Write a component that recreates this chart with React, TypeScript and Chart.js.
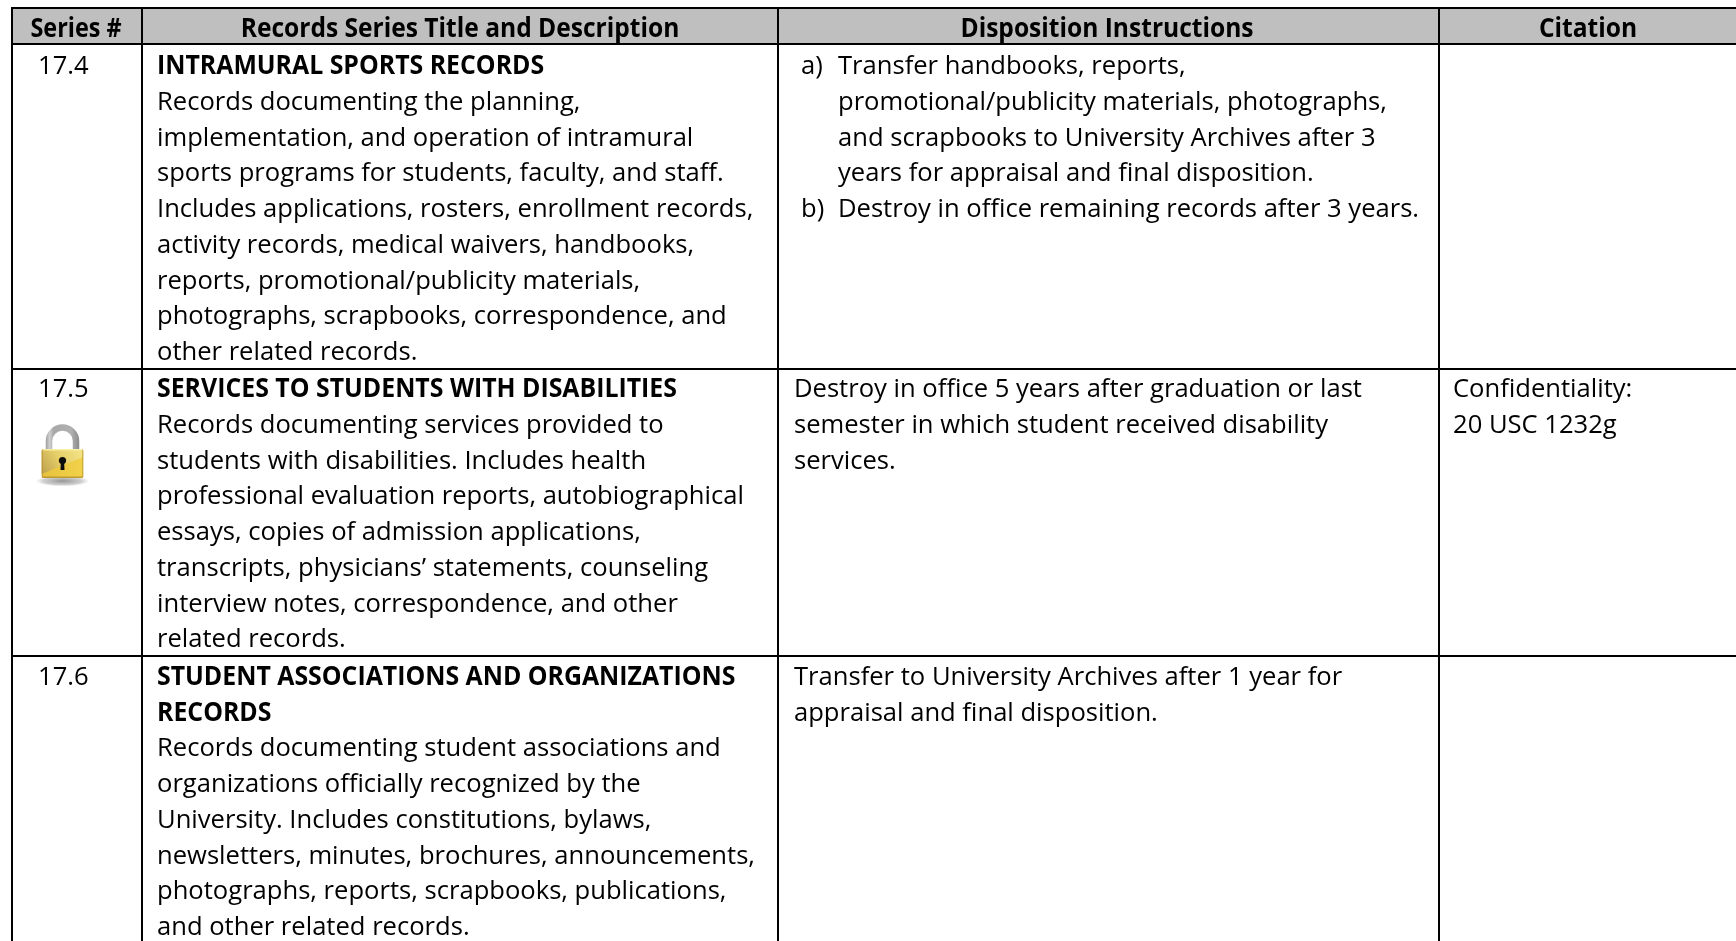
import React, { useEffect, useRef } from "react";
import { Chart, registerables } from "chart.js";

Chart.register(...registerables);

const WIDTH = 1736;
const HEIGHT = 941;

// Table structure (page pixels)
const columnEdges = [12, 142, 778, 1439, 1736];
const rowEdges = [8, 44, 369, 656, 941];

const headers = ["Series #", "Records Series Title and Description", "Disposition Instructions", "Citation"];
const headerCentres = [76, 460, 1107, 1588];

const seriesNumbers = ["17.4", "17.5", "17.6"];

const titles = [
  ["INTRAMURAL SPORTS RECORDS"],
  ["SERVICES TO STUDENTS WITH DISABILITIES"],
  ["STUDENT ASSOCIATIONS AND ORGANIZATIONS", "RECORDS"],
];

const descriptions = [
  [
    "Records documenting the planning,",
    "implementation, and operation of intramural",
    "sports programs for students, faculty, and staff.",
    "Includes applications, rosters, enrollment records,",
    "activity records, medical waivers, handbooks,",
    "reports, promotional/publicity materials,",
    "photographs, scrapbooks, correspondence, and",
    "other related records.",
  ],
  [
    "Records documenting services provided to",
    "students with disabilities. Includes health",
    "professional evaluation reports, autobiographical",
    "essays, copies of admission applications,",
    "transcripts, physicians’ statements, counseling",
    "interview notes, correspondence, and other",
    "related records.",
  ],
  [
    "Records documenting student associations and",
    "organizations officially recognized by the",
    "University. Includes constitutions, bylaws,",
    "newsletters, minutes, brochures, announcements,",
    "photographs, reports, scrapbooks, publications,",
    "and other related records.",
  ],
];

const dispositionMarkers = ["a)", "b)"];
const dispositionListA = [
  "Transfer handbooks, reports,",
  "promotional/publicity materials, photographs,",
  "and scrapbooks to University Archives after 3",
  "years for appraisal and final disposition.",
];
const dispositionListB = ["Destroy in office remaining records after 3 years."];
const dispositionRow2 = [
  "Destroy in office 5 years after graduation or last",
  "semester in which student received disability",
  "services.",
];
const dispositionRow3 = [
  "Transfer to University Archives after 1 year for",
  "appraisal and final disposition.",
];
const citationRow2 = ["Confidentiality:", "20 USC 1232g"];

const FONT = "'Open Sans'";
const SIZE = 26;
const SQUEEZE = 0.984;
const BOLD_SQUEEZE = 0.945;
const TITLE_SQUEEZE = 0.956;
const LEADING = 35.75;
const BASE = [74, 397, 684.8];

function drawLock(ctx: CanvasRenderingContext2D, x: number, y: number) {
  // x: centre of the padlock, y: top of its shackle
  ctx.save();
  const sy = y + 57;
  const shadow = ctx.createRadialGradient(x, sy, 2, x, sy, 27);
  shadow.addColorStop(0, "rgba(90,90,90,0.6)");
  shadow.addColorStop(0.7, "rgba(120,120,120,0.35)");
  shadow.addColorStop(1, "rgba(150,150,150,0)");
  ctx.fillStyle = shadow;
  ctx.save();
  ctx.translate(x, sy);
  ctx.scale(1, 0.2);
  ctx.translate(-x, -sy);
  ctx.beginPath();
  ctx.arc(x, sy, 27, 0, Math.PI * 2);
  ctx.fill();
  ctx.restore();

  const steel = ctx.createLinearGradient(x - 17, 0, x + 17, 0);
  steel.addColorStop(0, "#9a9a9a");
  steel.addColorStop(0.12, "#cfcfcf");
  steel.addColorStop(0.24, "#a8a8a8");
  steel.addColorStop(0.76, "#b0b0b0");
  steel.addColorStop(1, "#8a8a8a");
  ctx.strokeStyle = steel;
  ctx.lineWidth = 6.5;
  ctx.beginPath();
  ctx.moveTo(x - 13.5, y + 27);
  ctx.lineTo(x - 13.5, y + 17);
  ctx.arc(x, y + 17, 13.5, Math.PI, 0);
  ctx.lineTo(x + 13.5, y + 27);
  ctx.stroke();

  const left = x - 21;
  const top = y + 25;
  const w = 42;
  const h = 29;
  ctx.save();
  ctx.beginPath();
  ctx.roundRect(left, top, w, h, 2.5);
  ctx.clip();
  const lower = ctx.createLinearGradient(left, 0, left + w, 0);
  lower.addColorStop(0, "#e6c23c");
  lower.addColorStop(1, "#f2d24a");
  ctx.fillStyle = lower;
  ctx.fillRect(left, top, w, h);
  const upper = ctx.createLinearGradient(left, top + h, left + w, top);
  upper.addColorStop(0, "#b9994a");
  upper.addColorStop(0.5, "#e6cf68");
  upper.addColorStop(1, "#f5e58a");
  ctx.fillStyle = upper;
  ctx.beginPath();
  ctx.moveTo(left, top);
  ctx.lineTo(left + w, top);
  ctx.lineTo(left + w, top + 8);
  ctx.lineTo(left, top + h - 4);
  ctx.closePath();
  ctx.fill();
  ctx.fillStyle = "rgba(250,240,170,0.9)";
  ctx.fillRect(left, top, w, 1.5);
  ctx.fillStyle = "rgba(175,140,40,0.75)";
  ctx.fillRect(left, top + h - 1.5, w, 1.5);
  ctx.fillRect(left, top, 1.2, h);
  ctx.fillRect(left + w - 1.2, top, 1.2, h);
  ctx.restore();

  ctx.fillStyle = "#0c0c0c";
  ctx.beginPath();
  ctx.arc(x, y + 36.5, 3.6, 0, Math.PI * 2);
  ctx.fill();
  ctx.beginPath();
  ctx.moveTo(x - 1.6, y + 37);
  ctx.lineTo(x + 1.6, y + 37);
  ctx.lineTo(x + 2, y + 46);
  ctx.lineTo(x - 2, y + 46);
  ctx.closePath();
  ctx.fill();
  ctx.restore();
}

const tablePlugin = {
  id: "tableContent",
  beforeDatasetsDraw(chart: any) {
    const { ctx, scales } = chart;
    const { x, y } = scales;
    ctx.save();
    ctx.fillStyle = "#BFBFBF";
    ctx.fillRect(
      x.getPixelForValue(columnEdges[0]),
      y.getPixelForValue(rowEdges[0]),
      x.getPixelForValue(columnEdges[4]) - x.getPixelForValue(columnEdges[0]),
      y.getPixelForValue(rowEdges[1]) - y.getPixelForValue(rowEdges[0])
    );
    ctx.restore();
  },
  afterDatasetsDraw(chart: any) {
    const { ctx, scales } = chart;
    const { x: sx, y: sy } = scales;
    const put = (
      text: string,
      px: number,
      py: number,
      bold = false,
      centred = false,
      squeeze = bold ? BOLD_SQUEEZE : SQUEEZE
    ) => {
      ctx.save();
      ctx.font = `${bold ? "700 " : ""}${SIZE}px ${FONT}, sans-serif`;
      ctx.fillStyle = "#000";
      ctx.textBaseline = "alphabetic";
      ctx.textAlign = centred ? "center" : "left";
      ctx.translate(sx.getPixelForValue(px), sy.getPixelForValue(py));
      ctx.scale(squeeze, 1);
      ctx.fillText(text, 0, 0);
      ctx.restore();
    };
    headers.forEach((h, i) => put(h, headerCentres[i], 37, true, true, i === 0 ? 0.9 : BOLD_SQUEEZE));
    const lineY = (row: number, n: number) => BASE[row] + n * LEADING;

    seriesNumbers.forEach((s, r) => put(s, 38, lineY(r, 0)));
    titles.forEach((lines, r) => {
      lines.forEach((l, n) => put(l, 157, lineY(r, n), true, false, TITLE_SQUEEZE));
      descriptions[r].forEach((l, n) => put(l, 157, lineY(r, n + lines.length)));
    });

    put(dispositionMarkers[0], 801, lineY(0, 0));
    dispositionListA.forEach((l, n) => put(l, 838, lineY(0, n)));
    put(dispositionMarkers[1], 801, lineY(0, 4));
    dispositionListB.forEach((l, n) => put(l, 838, lineY(0, n + 4)));
    dispositionRow2.forEach((l, n) => put(l, 794, lineY(1, n)));
    dispositionRow3.forEach((l, n) => put(l, 794, lineY(2, n)));
    citationRow2.forEach((l, n) => put(l, 1453, lineY(1, n)));

    drawLock(ctx, sx.getPixelForValue(62.5), sy.getPixelForValue(424));
  },
};

function ruleDataset(points: { x: number; y: number }[]) {
  return {
    data: points,
    borderColor: "#000",
    borderWidth: 2,
    pointRadius: 0,
    fill: false,
    tension: 0,
    showLine: true,
    clip: false,
  };
}

export default function App() {
  const ref = useRef<HTMLCanvasElement>(null);
  useEffect(() => {
    document.body.style.margin = "0";
    document.body.style.overflow = "hidden";
    document.body.style.background = "#fff";
    let chart: Chart | null = null;
    let cancelled = false;
    const build = () => {
      if (cancelled || !ref.current) return;
      const top = rowEdges[0];
      const bottom = rowEdges[rowEdges.length - 1];
      const left = columnEdges[0];
      const right = columnEdges[columnEdges.length - 1];
      const datasets = [
        ...columnEdges.slice(0, -1).map((cx) =>
          ruleDataset([{ x: cx, y: top - 1 }, { x: cx, y: bottom }])
        ),
        ...rowEdges.slice(0, -1).map((ry) =>
          ruleDataset([{ x: left - 1, y: ry }, { x: right, y: ry }])
        ),
      ];
      chart = new Chart(ref.current, {
        type: "scatter",
        data: { datasets },
        options: {
          animation: false,
          responsive: false,
          layout: { padding: 0 },
          plugins: { legend: { display: false }, tooltip: { enabled: false } },
          scales: {
            x: { type: "linear", display: false, min: 0, max: WIDTH },
            y: { type: "linear", display: false, min: 0, max: HEIGHT, reverse: true },
          },
        },
        plugins: [tablePlugin],
      } as any);
    };
    const fonts = (document as any).fonts;
    Promise.all([
      fonts.load(`${SIZE}px ${FONT}`),
      fonts.load(`700 ${SIZE}px ${FONT}`),
    ]).finally(build);
    return () => {
      cancelled = true;
      if (chart) chart.destroy();
    };
  }, []);
  return (
    <canvas
      ref={ref}
      width={WIDTH}
      height={HEIGHT}
      style={{ display: "block", position: "absolute", left: 0, top: 0, width: WIDTH, height: HEIGHT }}
    />
  );
}
